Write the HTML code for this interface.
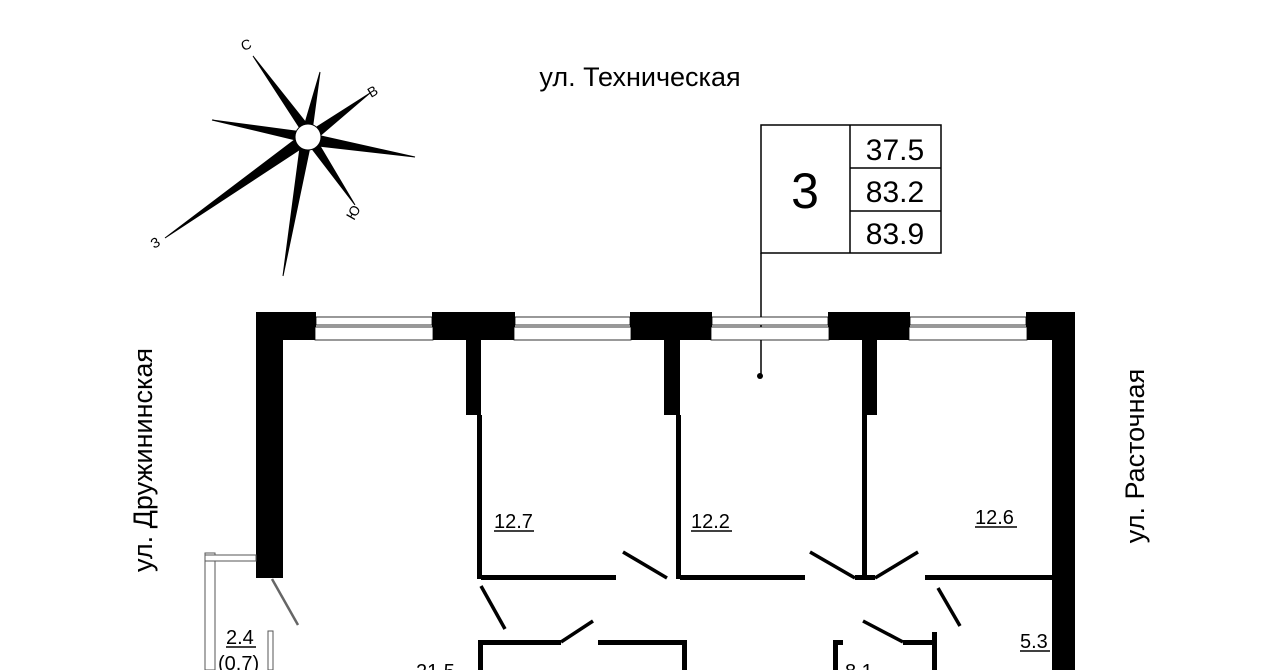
<!DOCTYPE html>
<html><head><meta charset="utf-8"><style>
html,body{margin:0;padding:0;background:#fff;width:1280px;height:670px;overflow:hidden}
svg text{font-family:"Liberation Sans",sans-serif;fill:#000}
</style></head><body>
<svg width="1280" height="670" viewBox="0 0 1280 670" xmlns="http://www.w3.org/2000/svg">
<!-- compass -->
<g stroke="#000" stroke-width="1">
<polygon points="253,56 303,133 311,129" fill="#000"/>
<polygon points="320,72 303,130 312,131" fill="#000"/>
<polygon points="370,93 312,130 315,140" fill="#000"/>
<polygon points="415,157 312,134 309,145" fill="#000"/>
<polygon points="355,205 306,141 314,136" fill="#000"/>
<polygon points="283,276 301,140 311,142" fill="#000"/>
<polygon points="165,238 297,138 305,146" fill="#000"/>
<polygon points="212,120 303,132 300,141" fill="#000"/>
<circle cx="308" cy="137" r="13" fill="#fff"/>
</g>
<text x="243" y="51" font-size="14" transform="rotate(-20 243 51)">С</text>
<text x="371" y="98" font-size="14" transform="rotate(-30 371 98)">В</text>
<text x="354" y="221" font-size="14" transform="rotate(-60 354 221)">Ю</text>
<text x="154" y="249" font-size="14" transform="rotate(-30 154 249)">З</text>
<!-- street labels -->
<text x="640" y="86" font-size="27" text-anchor="middle">ул. Техническая</text>
<text transform="translate(152,460) rotate(-90)" font-size="27" text-anchor="middle">ул. Дружининская</text>
<text transform="translate(1144,456) rotate(-90)" font-size="27" text-anchor="middle">ул. Расточная</text>
<!-- legend -->
<g stroke="#000" stroke-width="1.5" fill="none">
<rect x="761" y="125" width="180" height="128"/>
<line x1="850" y1="125" x2="850" y2="253"/>
<line x1="850" y1="168" x2="941" y2="168"/>
<line x1="850" y1="211" x2="941" y2="211"/>
<line x1="761" y1="253" x2="761" y2="376"/>
</g>
<circle cx="760" cy="376" r="3" fill="#000"/>
<text x="805" y="208" font-size="50" text-anchor="middle">3</text>
<text x="895" y="160" font-size="30" text-anchor="middle">37.5</text>
<text x="895" y="202" font-size="30" text-anchor="middle">83.2</text>
<text x="895" y="244" font-size="30" text-anchor="middle">83.9</text>
<!-- walls -->
<g fill="#000">
<rect x="256" y="312" width="60" height="28"/>
<rect x="256" y="312" width="27" height="266"/>
<rect x="432" y="312" width="83" height="28"/>
<rect x="630" y="312" width="82" height="28"/>
<rect x="828" y="312" width="82" height="28"/>
<rect x="1026" y="312" width="49" height="28"/>
<rect x="1052" y="312" width="23" height="358"/>
<rect x="466" y="340" width="15" height="75"/>
<rect x="664" y="340" width="16" height="75"/>
<rect x="862" y="340" width="15" height="75"/>
<rect x="477" y="415" width="5" height="164"/>
<rect x="676" y="415" width="5" height="164"/>
<rect x="862" y="415" width="5" height="164"/>
<rect x="481" y="575" width="135" height="5"/>
<rect x="680" y="575" width="125" height="5"/>
<rect x="855" y="575" width="20" height="5"/>
<rect x="925" y="575" width="130" height="5"/>
<rect x="478" y="640" width="5" height="30"/>
<rect x="481" y="640" width="80" height="5"/>
<rect x="598" y="640" width="87" height="5"/>
<rect x="682" y="640" width="5" height="30"/>
<rect x="833" y="640" width="5" height="30"/>
<rect x="833" y="640" width="10" height="5"/>
<rect x="903" y="640" width="32" height="5"/>
<rect x="932" y="632" width="5" height="38"/>
</g>
<!-- windows -->
<g stroke="#000" stroke-width="0.8" fill="#fff">
<rect x="316" y="317" width="116" height="8"/>
<rect x="315" y="327" width="118" height="13"/>
<rect x="515" y="317" width="115" height="8"/>
<rect x="514" y="327" width="117" height="13"/>
<rect x="712" y="317" width="116" height="8"/>
<rect x="711" y="327" width="118" height="13"/>
<rect x="910" y="317" width="116" height="8"/>
<rect x="909" y="327" width="118" height="13"/>
</g>
<!-- doors -->
<g stroke="#000" stroke-width="3.5" stroke-linecap="butt">
<line x1="623" y1="552" x2="667" y2="578"/>
<line x1="810" y1="552" x2="855" y2="578"/>
<line x1="875" y1="578" x2="918" y2="552"/>
<line x1="938" y1="588" x2="960" y2="626"/>
<line x1="481" y1="586" x2="505" y2="629"/>
<line x1="561" y1="642" x2="593" y2="621"/>
<line x1="863" y1="621" x2="903" y2="642"/>
</g>
<!-- balcony -->
<g stroke="#555" stroke-width="1" fill="#fff">
<rect x="205" y="553" width="10" height="117"/>
<rect x="205" y="555" width="51" height="6"/>
<rect x="268" y="631" width="5" height="39"/>
</g>
<line x1="272" y1="579" x2="298" y2="625" stroke="#666" stroke-width="2.5"/>
<!-- labels -->
<g font-size="20">
<text x="494" y="528">12.7</text>
<text x="691" y="528">12.2</text>
<text x="975" y="524">12.6</text>
<text x="1020" y="648">5.3</text>
<text x="226" y="644">2.4</text>
<text x="218" y="670">(0.7)</text>
<text x="416" y="678">21.5</text>
<text x="845" y="678">8.1</text>
</g>
<g stroke="#000" stroke-width="1.5">
<line x1="494" y1="531" x2="534" y2="531"/>
<line x1="691" y1="531" x2="732" y2="531"/>
<line x1="975" y1="527" x2="1017" y2="527"/>
<line x1="1020" y1="651" x2="1050" y2="651"/>
<line x1="226" y1="647" x2="256" y2="647"/>
</g>
</svg>
</body></html>
